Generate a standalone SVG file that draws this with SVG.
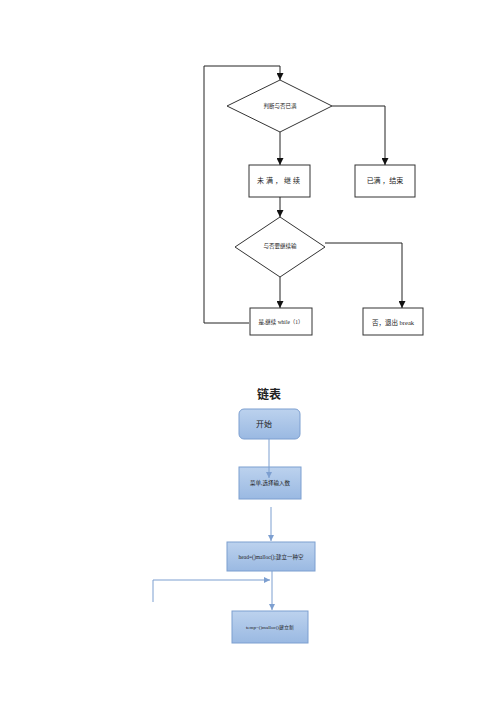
<svg xmlns="http://www.w3.org/2000/svg" width="500" height="707" viewBox="0 0 500 707">
<style>
.k{fill:none;stroke:#222;stroke-width:1}
.b{fill:#fff;stroke:#333;stroke-width:1}
.t{font-family:"Liberation Serif","Noto Sans CJK SC",serif;fill:#222;text-anchor:middle;dominant-baseline:central}
.bl{stroke:#7d9fd0;stroke-width:1;fill:none}
.bx{fill:url(#g);stroke:#7d9fd0;stroke-width:1}
</style>
<defs>
<marker id="a" viewBox="0 0 10 10" refX="10" refY="5" markerWidth="7" markerHeight="7" orient="auto" markerUnits="userSpaceOnUse"><path d="M0,0 L10,5 L0,10 z" fill="#111"/></marker>
<marker id="ab" viewBox="0 0 10 10" refX="10" refY="5" markerWidth="6" markerHeight="6" orient="auto" markerUnits="userSpaceOnUse"><path d="M0,0 L10,5 L0,10 z" fill="#7d9fd0"/></marker>
<linearGradient id="g" x1="0" y1="0" x2="0" y2="1"><stop offset="0" stop-color="#bcd2ee"/><stop offset="1" stop-color="#9ab9e2"/></linearGradient>
</defs>
<g id="d1"><polygon class="b" points="280,80 332,106 280,132 227,106"/><text class="t" x="280" y="106" font-size="5.5">判断与否已满</text></g>
<g id="n1"><rect class="b" x="249" y="165" width="61" height="32"/><text class="t" x="279.5" y="181" font-size="7" letter-spacing="2">未满，继续</text></g>
<g id="n2"><rect class="b" x="355" y="165" width="60" height="32"/><text class="t" x="385" y="181" font-size="7">已满 ，结束</text></g>
<g id="d2"><polygon class="b" points="280,217 325,247 280,277 235,247"/><text class="t" x="280" y="246" font-size="5.5">与否要继续输</text></g>
<g id="n3"><rect class="b" x="250" y="308" width="62" height="27"/><text class="t" x="281" y="322" font-size="5.5">是,继续 while（1）</text></g>
<g id="n4"><rect class="b" x="363" y="308" width="60" height="27"/><text class="t" x="393" y="322" font-size="6.5">否，退出 break</text></g>
<text class="t" x="269" y="395" font-size="12" font-weight="bold">链表</text>
<g id="s1"><rect class="bx" x="239" y="409" width="61" height="30" rx="5"/><text class="t" x="264" y="424" font-size="8">开始</text></g>
<g id="s2"><rect class="bx" x="239" y="467" width="62" height="32"/><text class="t" x="270" y="483" font-size="5.5">菜单,选择输入数</text></g>
<g id="s3"><rect class="bx" x="227" y="542" width="88" height="29"/><text class="t" x="271" y="556.5" font-size="5.5">head=()malloc();建立一种空</text></g>
<g id="s4"><rect class="bx" x="232" y="611" width="76" height="32"/><text class="t" x="270" y="627" font-size="5">temp=()malloc()建立新</text></g>
<g id="connectors">
<path class="k" d="M249,323 H204 V66 H280 V80" marker-end="url(#a)"/>
<path class="k" d="M280,132 V165" marker-end="url(#a)"/>
<path class="k" d="M332,106 H385 V165" marker-end="url(#a)"/>
<path class="k" d="M280,197 V217" marker-end="url(#a)"/>
<path class="k" d="M280,277 V308" marker-end="url(#a)"/>
<path class="k" d="M325,243 H402 V308" marker-end="url(#a)"/>
<path class="bl" d="M269,439 V478" marker-end="url(#ab)"/>
<path class="bl" d="M271,507 V541" marker-end="url(#ab)"/>
<path class="bl" d="M272,571 V610" marker-end="url(#ab)"/>
<path class="bl" d="M153,602 V580 H270" marker-end="url(#ab)"/>
</g>
</svg>
